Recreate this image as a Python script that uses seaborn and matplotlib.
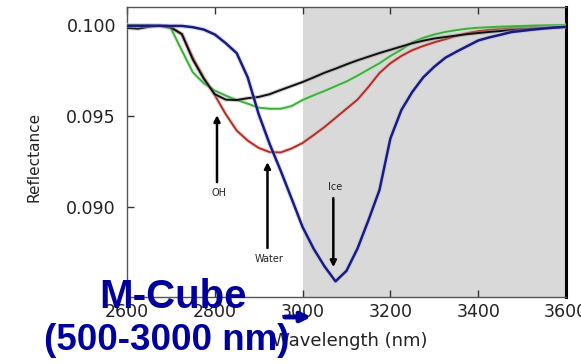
import matplotlib
matplotlib.use("Agg")
import pandas as pd
import matplotlib.pyplot as plt
import matplotlib.patheffects as pe
from matplotlib.patches import FancyArrowPatch
import seaborn as sns

# wavelength grid (nm) at 25 nm steps
wavelength = [2600, 2625, 2650, 2675, 2700, 2725, 2750, 2775, 2800, 2825,
              2850, 2875, 2900, 2925, 2950, 2975, 3000, 3025, 3050, 3075,
              3100, 3125, 3150, 3175, 3200, 3225, 3250, 3275, 3300, 3325,
              3350, 3375, 3400, 3425, 3450, 3475, 3500, 3525, 3550, 3575, 3600]

refl_black = [.09984, .09980, .09990, .09996, .09986, .09950, .09810, .09705, .09620, .09590,
              .09588, .09598, .09605, .09620, .09643, .09665, .09687, .09712, .09738, .09760,
              .09784, .09806, .09826, .09846, .09864, .09882, .09900, .09914, .09926, .09934,
              .09942, .09950, .09956, .09962, .09967, .09972, .09976, .09980, .09984, .09987, .09990]

refl_green = [.10000, .09998, .09998, .09996, .09982, .09860, .09740, .09680, .09640, .09612,
              .09588, .09568, .09546, .09540, .09540, .09555, .09588, .09614, .09638, .09664,
              .09690, .09722, .09756, .09790, .09830, .09865, .09905, .09930, .09948, .09962,
              .09972, .09980, .09985, .09988, .09991, .09993, .09995, .09997, .09998, .09999, .10000]

refl_red = [.09996, .09996, .09996, .09994, .09988, .09950, .09820, .09710, .09615, .09510,
            .09420, .09365, .09325, .09302, .09300, .09322, .09352, .09395, .09440, .09490,
            .09540, .09590, .09660, .09736, .09790, .09830, .09862, .09885, .09905, .09922,
            .09940, .09955, .09966, .09974, .09980, .09984, .09987, .09990, .09992, .09994, .09995]

refl_blue = [.09996, .09996, .09996, .09996, .09995, .09995, .09988, .09975, .09948, .09900,
             .09845, .09712, .09510, .09346, .09200, .09046, .08890, .08772, .08674, .08592,
             .08650, .08772, .08928, .09093, .09377, .09533, .09633, .09713, .09771, .09820,
             .09853, .09884, .09915, .09932, .09946, .09961, .09968, .09975, .09981, .09986, .09990]

series_names = ["red", "green", "black", "blue"]
line_colors = {"red": "#a8322a", "green": "#3fae3f", "black": "#111111", "blue": "#1b1b78"}
halo_colors = {"red": "#f3a5a0", "green": "#b4ecae", "black": "#999999", "blue": "#b0bcf4"}

# annotations: label, x, arrow tail y, arrow head y, text y
labels = ["OH", "Water", "Ice"]
label_x = [2805, 2920, 3070]
arrow_tail = [0.09137, 0.08775, 0.09049]
arrow_head = [0.09505, 0.09247, 0.08670]
label_y = [0.09077, 0.08714, 0.09110]

rows = []
for name, vals in zip(series_names, [refl_red, refl_green, refl_black, refl_blue]):
    for w, r in zip(wavelength, vals):
        rows.append({"wavelength": w, "reflectance": r, "sample": name})
df = pd.DataFrame(rows)

sns.set_style("white")
W, H = 581, 364
fig = plt.figure(figsize=(W / 100, H / 100), dpi=100)
ax = fig.add_axes([127 / W, 1 - 297 / H, (566 - 127) / W, (297 - 7) / H])

ax.axvspan(3000, 3600, color="#d9d9d9", zorder=0, lw=0)
sns.lineplot(data=df, x="wavelength", y="reflectance", hue="sample",
             hue_order=series_names, palette=line_colors, legend=False,
             linewidth=1.4, ax=ax, zorder=3)
for line, name in zip(ax.lines, series_names):
    lw = 1.8 if name == "blue" else 1.4
    line.set_linewidth(lw)
    line.set_solid_joinstyle("round")
    line.set_path_effects([pe.Stroke(linewidth=lw + 1.6, foreground=halo_colors[name], alpha=0.45),
                           pe.Normal()])

ax.set_xlim(2600, 3600)
ax.set_ylim(0.08506, 0.10099)
ax.set_xticks([2600, 2800, 3000, 3200, 3400, 3600])
ax.set_yticks([0.090, 0.095, 0.100])
ax.set_yticklabels(["0.090", "0.095", "0.100"])
ax.tick_params(direction="in", length=5, width=1, colors="#333333", labelsize=12.5,
               top=True, bottom=True, left=True, right=False, pad=4)
ax.tick_params(axis="x", labelcolor="#222222")
ax.tick_params(axis="y", labelcolor="#222222", pad=8)

for side in ["left", "bottom", "top"]:
    ax.spines[side].set_color("#555555")
    ax.spines[side].set_linewidth(1.0)
ax.spines["right"].set_color("black")
ax.spines["right"].set_linewidth(2.2)

ax.set_xlabel("Wavelength (nm)", fontsize=13, color="#222222")
ax.xaxis.set_label_coords(0.508, -0.12)
ax.set_ylabel("Reflectance", fontsize=11, color="#222222")
ax.yaxis.set_label_coords(-0.194, 0.483)

for lab, x, t, h, ty in zip(labels, label_x, arrow_tail, arrow_head, label_y):
    ax.annotate("", xy=(x, h), xytext=(x, t),
                arrowprops=dict(arrowstyle="-|>", color="black", lw=1.8, mutation_scale=9,
                                shrinkA=0, shrinkB=0), zorder=5)
    ax.text(x + 4, ty, lab, fontsize=7, ha="center", va="center", color="#222222")

blue_txt = "#00009c"
fig.text(173 / W, 1 - 308 / H, "M-Cube", ha="center", va="baseline", fontsize=29,
         weight="bold", color=blue_txt, family="Liberation Sans")
fig.text(167 / W, 1 - 350 / H, "(500-3000 nm)", ha="center", va="baseline", fontsize=26.5,
         weight="bold", color=blue_txt, family="Liberation Sans")
fig.add_artist(FancyArrowPatch((282 / W, 1 - 317 / H), (314 / W, 1 - 317 / H),
                               transform=fig.transFigure, arrowstyle="-|>",
                               mutation_scale=14, lw=3.5, color=blue_txt))

fig.savefig("out.png", dpi=100)
